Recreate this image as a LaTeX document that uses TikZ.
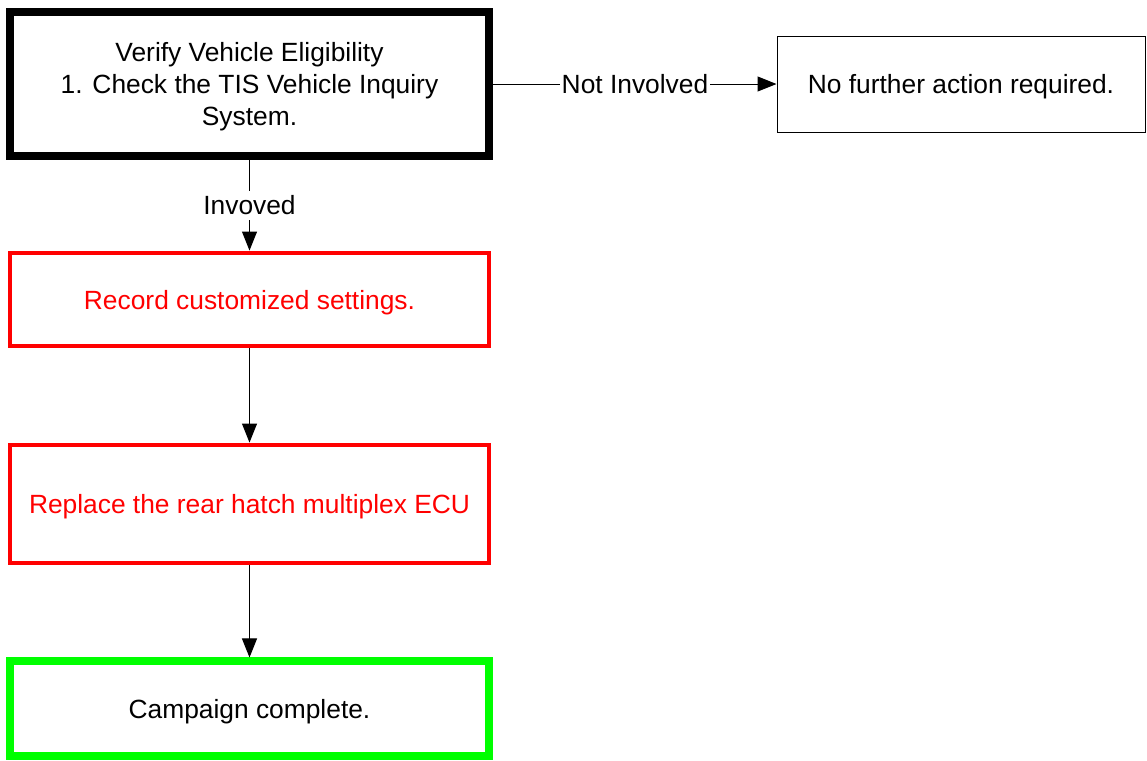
\documentclass[tikz,border=0pt]{standalone}
\usepackage{fontspec}
\setmainfont{Liberation Sans}
\usepackage{xcolor}
\usepackage{tikz}
\usetikzlibrary{shapes, arrows.meta, positioning, calc}

\definecolor{boxred}{RGB}{255,0,0}
\definecolor{boxgreen}{RGB}{0,255,0}

\begin{document}
\begin{tikzpicture}[
        font=\fontsize{15}{18.2}\selectfont,
        box/.style={draw, rectangle, minimum width=9.58cm, align=center, inner sep=0pt, text depth=0pt},
        flow/.style={-{Triangle[length=0.38cm, width=0.3cm]}, line width=0.57pt},
        lbl/.style={fill=white, inner xsep=1pt, inner ysep=2.5pt}
    ]
        \useasboundingbox (0,0) rectangle (22.94,-15.2);

        \node[box, line width=5.1pt, minimum height=2.88cm] (verify) at (4.99,-1.68)
            {Verify Vehicle Eligibility\\1. Check the TIS Vehicle Inquiry\\System.};
        \node[draw, line width=0.57pt, minimum width=7.36cm, minimum height=1.92cm, text depth=0pt] (nofurther) at (19.22,-1.68)
            {No further action required.};

        \node[box, draw=boxred, text=boxred, line width=2.8pt, minimum height=1.86cm] (record) at (4.99,-5.99)
            {Record customized settings.};
        \node[box, draw=boxred, text=boxred, line width=2.8pt, minimum height=2.36cm] (replace) at (4.99,-10.08)
            {Replace the rear hatch multiplex ECU};
        \node[box, draw=boxgreen, line width=4pt, minimum height=1.9cm] (complete) at (4.99,-14.17)
            {Campaign complete.};

        \draw[flow] (verify.east) -- node[lbl] {Not Involved} (nofurther.west);
        \draw[flow] (verify.south) -- node[lbl] {Invoved} (record.north);
        \draw[flow] (record.south) -- (replace.north);
        \draw[flow] (replace.south) -- (complete.north);
    \end{tikzpicture}
\end{document}
